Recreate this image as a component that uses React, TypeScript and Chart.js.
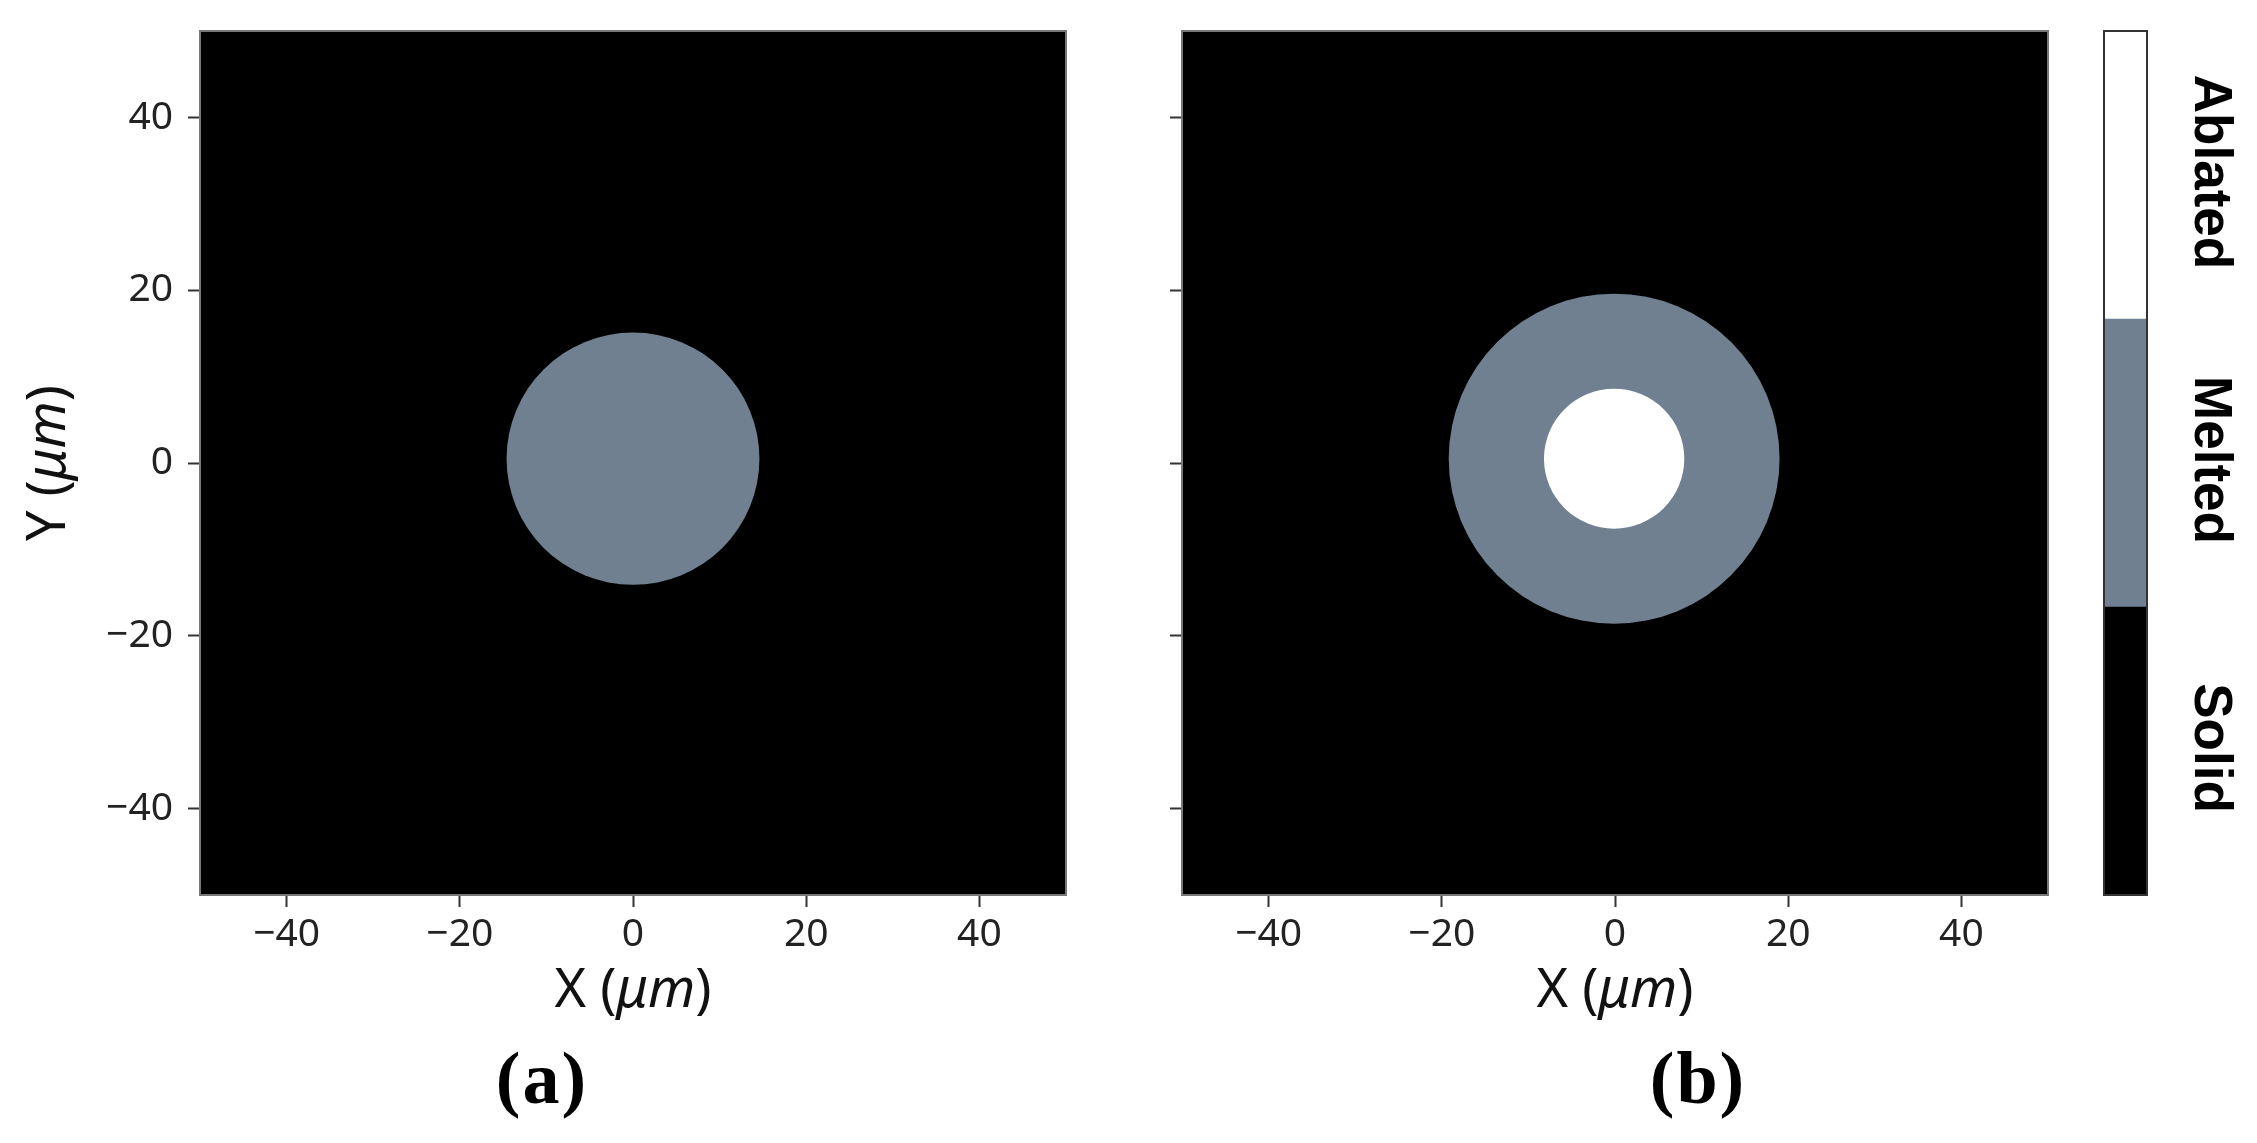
import React, { useEffect, useRef } from 'react';
import { Chart, registerables } from 'chart.js';
Chart.register(...registerables);

// ---- data ----
const tickValues = [-40, -20, 0, 20, 40];
const axisMin = -50;
const axisMax = 50;
const panelLabels = ['(a)', '(b)'];
const meltedRadius = [14.6, 19.1]; // µm
const ablatedRadius = [0, 8.1]; // µm
const centerX = [0, -0.1];
const centerY = [0.5, 0.5];
const phaseLabels = ['Solid', 'Melted', 'Ablated'];
const phaseValues = [1, 1, 1];
const phaseColors = ['#000000', '#708090', '#ffffff'];

const W = 2257;
const H = 1143;
const TICK_FONT = { family: '"Noto Sans", sans-serif', size: 39 };
const TITLE_SIZE = 54;

const fmtTick = (v: number) => (v < 0 ? '\u2212' + Math.abs(v) : String(v));

function drawMixedTitle(ctx: CanvasRenderingContext2D, letter: string, cx: number, cy: number, rotate: boolean) {
  const parts: [string, string][] = [[letter + ' (', 'normal'], ['\u03bcm', 'italic'], [')', 'normal']];
  const fontFor = (s: string) => `${s} ${TITLE_SIZE}px "Noto Sans", sans-serif`;
  let total = 0;
  const widths = parts.map(([t, s]) => {
    ctx.font = fontFor(s);
    const w = ctx.measureText(t).width;
    total += w;
    return w;
  });
  ctx.save();
  ctx.translate(cx, cy);
  if (rotate) ctx.rotate(-Math.PI / 2);
  ctx.fillStyle = '#111';
  ctx.textBaseline = 'middle';
  ctx.textAlign = 'left';
  let x = -total / 2;
  parts.forEach(([t, s], i) => {
    ctx.font = fontFor(s);
    ctx.fillText(t, x, 0);
    x += widths[i];
  });
  ctx.restore();
}

function makeFieldPlugin(i: number, showY: boolean) {
  return {
    id: 'field' + i,
    beforeDraw(chart: any) {
      const { ctx, chartArea: a } = chart;
      const x = chart.scales.x;
      const y = chart.scales.y;
      ctx.save();
      ctx.beginPath();
      ctx.rect(a.left, a.top, a.right - a.left, a.bottom - a.top);
      ctx.clip();
      ctx.fillStyle = phaseColors[0];
      ctx.fillRect(a.left, a.top, a.right - a.left, a.bottom - a.top);
      const cx = x.getPixelForValue(centerX[i]);
      const cy = y.getPixelForValue(centerY[i]);
      const disk = (r: number, color: string) => {
        if (r <= 0) return;
        const rx = Math.abs(x.getPixelForValue(centerX[i] + r) - cx);
        const ry = Math.abs(y.getPixelForValue(centerY[i] + r) - cy);
        ctx.fillStyle = color;
        ctx.beginPath();
        ctx.ellipse(cx, cy, rx, ry, 0, 0, Math.PI * 2);
        ctx.fill();
      };
      disk(meltedRadius[i], phaseColors[1]);
      disk(ablatedRadius[i], phaseColors[2]);
      ctx.restore();
    },
    afterDraw(chart: any) {
      const { ctx, chartArea: a } = chart;
      ctx.save();
      ctx.strokeStyle = '#777';
      ctx.lineWidth = 2;
      ctx.strokeRect(a.left, a.top, a.right - a.left, a.bottom - a.top);
      ctx.restore();
      drawMixedTitle(ctx, 'X', (a.left + a.right) / 2, a.bottom + 97, false);
      if (showY) drawMixedTitle(ctx, 'Y', 50, (a.top + a.bottom) / 2, true);
    },
  };
}

function makePanelConfig(i: number, yAxisWidth: number, rightPad: number, showYLabels: boolean) {
  const scaleBase = (axis: string) => ({
    type: 'linear' as const,
    min: axisMin,
    max: axisMax,
    afterBuildTicks: (s: any) => {
      s.ticks = tickValues.map((v) => ({ value: v }));
    },
    grid: {
      display: true,
      drawOnChartArea: false,
      drawTicks: true,
      tickLength: 12,
      tickColor: '#333',
      tickWidth: 2,
    },
    border: { display: false },
    ticks: {
      color: '#222',
      font: TICK_FONT,
      padding: axis === 'x' ? 4 : 15,
      maxRotation: 0,
      callback: (v: any) => (axis === 'y' && !showYLabels ? '' : fmtTick(Number(v))),
    },
  });
  return {
    type: 'scatter' as const,
    data: {
      datasets: [
        {
          label: 'center',
          data: [{ x: centerX[i], y: centerY[i] }],
          pointRadius: 0,
        },
      ],
    },
    options: {
      animation: false as const,
      responsive: false,
      events: [],
      layout: { padding: { left: 0, top: 31, right: rightPad, bottom: 0 } },
      plugins: { legend: { display: false }, tooltip: { enabled: false } },
      scales: {
        x: {
          ...scaleBase('x'),
          position: 'bottom' as const,
          afterFit: (s: any) => {
            s.height = H - 895;
            s.paddingLeft = 0;
            s.paddingRight = 0;
          },
        },
        y: {
          ...scaleBase('y'),
          position: 'left' as const,
          afterFit: (s: any) => {
            s.width = yAxisWidth;
            s.paddingTop = 0;
            s.paddingBottom = 0;
          },
        },
      },
    },
    plugins: [makeFieldPlugin(i, showYLabels)],
  };
}

const colorbarPlugin = {
  id: 'cbar',
  afterDraw(chart: any) {
    const { ctx, chartArea: a } = chart;
    const y = chart.scales.y;
    ctx.save();
    ctx.strokeStyle = '#333';
    ctx.lineWidth = 2;
    ctx.strokeRect(a.left, a.top, a.right - a.left, a.bottom - a.top);
    ctx.fillStyle = '#000';
    ctx.font = 'bold 53px "Liberation Sans", Arial, sans-serif';
    ctx.textAlign = 'center';
    ctx.textBaseline = 'middle';
    let cum = 0;
    phaseLabels.forEach((label, i) => {
      const mid = cum + phaseValues[i] / 2;
      cum += phaseValues[i];
      ctx.save();
      ctx.translate(a.right + 63, y.getPixelForValue(mid) - 3);
      ctx.rotate(Math.PI / 2);
      ctx.fillText(label, 0, 0);
      ctx.restore();
    });
    ctx.restore();
  },
};

function ChartCanvas({ config, left, width }: { config: any; left: number; width: number }) {
  const ref = useRef<HTMLCanvasElement>(null);
  useEffect(() => {
    if (!ref.current) return;
    const chart = new Chart(ref.current, config);
    return () => chart.destroy();
  }, []);
  return (
    <canvas
      ref={ref}
      width={width}
      height={H}
      style={{ position: 'absolute', left, top: 0, width, height: H }}
    />
  );
}

export default function App() {
  const cbarTotal = phaseValues.reduce((s, v) => s + v, 0);
  const cbarConfig = {
    type: 'bar' as const,
    data: {
      labels: [''],
      datasets: phaseLabels.map((l, i) => ({
        label: l,
        data: [phaseValues[i]],
        backgroundColor: phaseColors[i],
        borderWidth: 0,
        barPercentage: 1,
        categoryPercentage: 1,
      })),
    },
    options: {
      animation: false as const,
      responsive: false,
      events: [],
      layout: { padding: { left: 14, top: 31, right: 110, bottom: H - 895 } },
      plugins: { legend: { display: false }, tooltip: { enabled: false } },
      scales: {
        x: { display: false, stacked: true },
        y: { display: false, stacked: true, min: 0, max: cbarTotal },
      },
    },
    plugins: [colorbarPlugin],
  };

  const labelStyle = (cx: number): React.CSSProperties => ({
    position: 'absolute',
    left: cx - 100,
    top: 1086 - 50,
    width: 200,
    height: 100,
    lineHeight: '100px',
    textAlign: 'center',
    font: 'bold 74px "Liberation Serif", "Times New Roman", serif',
    color: '#000',
    letterSpacing: '2px',
  });

  return (
    <div style={{ position: 'absolute', left: 0, top: 0, width: W, height: H, background: '#fff', overflow: 'hidden' }}>
      <ChartCanvas config={makePanelConfig(0, 200, 24, true)} left={0} width={1090} />
      <ChartCanvas config={makePanelConfig(1, 82, 22, false)} left={1100} width={970} />
      <ChartCanvas config={cbarConfig} left={2090} width={167} />
      <div style={labelStyle(542)}>{panelLabels[0]}</div>
      <div style={labelStyle(1698)}>{panelLabels[1]}</div>
    </div>
  );
}
